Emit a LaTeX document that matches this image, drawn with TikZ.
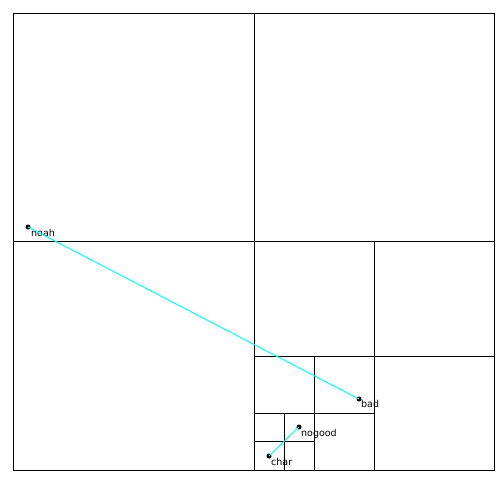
\documentclass[tikz,border=0pt]{standalone}
\usepackage{fontspec}
\setmainfont{DejaVu Sans}
\definecolor{linkcyan}{RGB}{0,255,255}
\tikzset{
  cell/.style={draw=black,line width=1pt},
  pt/.style={circle,fill=black,minimum size=5pt,inner sep=0pt},
  ptlabel/.style={anchor=north west,inner sep=0pt,font=\fontsize{9.5}{10}\selectfont},
  link/.style={linkcyan,line width=1pt}
}

\begin{document}
\begin{tikzpicture}[x=1pt,y=-1pt]
\useasboundingbox (0,0) rectangle (499,479);

% Outer cell and first split
\draw[cell] (13,13) rectangle (494,470);
\draw[cell] (254,13) -- (254,470);
\draw[cell] (13,241) -- (494,241);

% Splits of the lower right quadrant
\draw[cell] (374,241) -- (374,470);
\draw[cell] (254,356) -- (494,356);
\draw[cell] (314,356) -- (314,470);
\draw[cell] (254,413) -- (374,413);
\draw[cell] (284,413) -- (284,470);
\draw[cell] (254,441) -- (314,441);

% Points
\node[pt] (noah) at (28,227) {};
\node[pt] (bad) at (359,399) {};
\node[pt] (nogood) at (299,427) {};
\node[pt] (char) at (269,456) {};

% Labels
\node[ptlabel] at (31,229) {noah};
\node[ptlabel] at (361,400) {bad};
\node[ptlabel] at (301,429) {nogood};
\node[ptlabel] at (271,458) {char};

% Links
\draw[link] (noah.center) -- (bad.center);
\draw[link] (nogood.center) -- (char.center);

\end{tikzpicture}
\end{document}
